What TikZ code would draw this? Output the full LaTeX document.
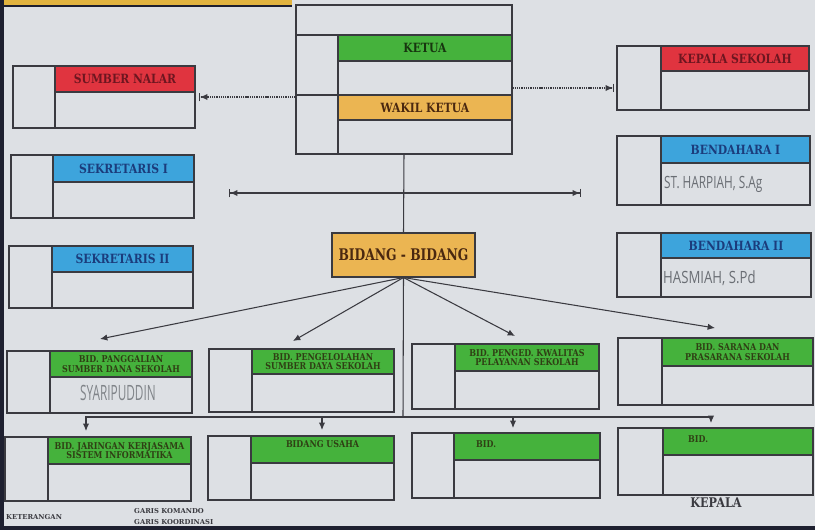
\documentclass[tikz,border=0pt]{standalone}
\usepackage{graphicx}
\usepackage{fontspec}
\setmainfont{DejaVu Serif}
\newfontfamily\handfont{Open Sans}
\usetikzlibrary{arrows.meta,fit,calc}

\definecolor{bg}{HTML}{DDE0E4}
\definecolor{linec}{HTML}{3A3A40}
\definecolor{hgreen}{HTML}{45B23C}
\definecolor{hred}{HTML}{E0343F}
\definecolor{hblue}{HTML}{3DA4DC}
\definecolor{horange}{HTML}{EBB552}
\definecolor{tgreen}{HTML}{17360F}
\definecolor{tred}{HTML}{6E1620}
\definecolor{tblue}{HTML}{1B3C7C}
\definecolor{tbrown}{HTML}{4A2810}
\definecolor{tolive}{HTML}{2F3F14}
\definecolor{pencil}{HTML}{6A6E74}
\definecolor{frameband}{HTML}{1E2030}
\definecolor{topband}{HTML}{E2B440}

% vertically stretched text
\newcommand{\tall}[1]{\scalebox{1}[1.18]{#1}}

\tikzset{
  frame/.style={draw=linec, line width=0.9pt, inner sep=0pt},
  hdr/.style={frame, fill=#1},
  cmd/.style={draw=linec, line width=0.9pt, -{Latex[length=2.2mm,width=1.9mm]}},
  coordarrow/.style={draw=linec, line width=0.9pt, -{Latex[length=2.2mm,width=1.9mm]Bar[width=2.6mm]}},
  dotarrow/.style={coordarrow, dash pattern=on 1.1pt off 0.8pt},
  bigtext/.style={inner sep=0pt, font=\bfseries\fontsize{9.2}{10}\selectfont},
  smalltext/.style={inner sep=0pt, align=center, font=\bfseries\fontsize{6.8}{7.9}\selectfont},
  legtext/.style={inner sep=0pt, anchor=west, text=linec, font=\bfseries\fontsize{5.8}{6.5}\selectfont},
  hand/.style={inner sep=0pt, text=pencil, font=\handfont\fontsize{9}{10}\selectfont},
}

% box with a left column and a coloured header strip
% #1 name, (#2,#3) top-left, #4 column x, #5 header bottom y, (#6,#7) bottom-right, #8 header fill
\newcommand{\unitbox}[8]{%
  \node[frame, fit={(#2,#3) (#6,#7)}] (#1) {};
  \node[hdr=#8, fit={(#4,#3) (#6,#5)}] (#1h) {};
  \draw[frame] (#4,#3) -- (#4,#7);
}

\begin{document}
\begin{tikzpicture}[x=0.3mm, y=-0.3mm]
\useasboundingbox (0,0) rectangle (815,530);
\fill[bg] (0,0) rectangle (815,530);

% board edges
\fill[topband] (0,0) rectangle (292,6);
\draw[frameband, line width=1.2pt] (0,6) -- (292,6);
\fill[frameband] (0,0) rectangle (4,530);
\fill[frameband] (0,526) rectangle (815,530);

% chairman block
\node[frame, fit={(296,5) (512,154)}] (ketua) {};
\node[hdr=hgreen, fit={(338,35) (512,61)}] (ketuah) {};
\node[hdr=horange, fit={(338,95) (512,120)}] (wakilh) {};
\draw[frame] (296,35) -- (338,35);
\draw[frame] (296,95) -- (338,95);
\draw[frame] (338,35) -- (338,154);
\node[bigtext, text=tgreen] (ketuat) at (ketuah.center) {\tall{KETUA}};
\node[bigtext, text=tbrown] (wakilt) at (wakilh.center) {\tall{WAKIL KETUA}};

% side boxes
\unitbox{sumber}{13}{66}{55}{92}{195}{128}{hred}
\node[bigtext, text=tred] (sumbert) at (sumberh.center) {\tall{SUMBER NALAR}};
\unitbox{sek1}{11}{155}{53}{182}{194}{218}{hblue}
\node[bigtext, text=tblue] (sek1t) at (sek1h.center) {\tall{SEKRETARIS I}};
\unitbox{sek2}{9}{246}{52}{272}{193}{308}{hblue}
\node[bigtext, text=tblue] (sek2t) at (sek2h.center) {\tall{SEKRETARIS II}};

\unitbox{kepsek}{617}{46}{661}{71}{809}{110}{hred}
\node[bigtext, text=tred] (kepsekt) at (kepsekh.center) {\tall{KEPALA SEKOLAH}};
\unitbox{bend1}{617}{136}{661}{163}{810}{205}{hblue}
\node[bigtext, text=tblue] (bend1t) at (bend1h.center) {\tall{BENDAHARA I}};
\node[hand, anchor=west] (bend1n) at (664,184) {\scalebox{1.12}[1.6]{ST. HARPIAH, S.Ag}};
\unitbox{bend2}{617}{233}{661}{258}{811}{297}{hblue}
\node[bigtext, text=tblue] (bend2t) at (bend2h.center) {\tall{BENDAHARA II}};
\node[hand, anchor=west] (bend2n) at (663,278) {\scalebox{1.25}[1.6]{HASMIAH, S.Pd}};

% sections node
\node[hdr=horange, fit={(332,233) (475,277)}] (bidang) {};
\node[inner sep=0pt, text=tbrown, font=\bfseries\fontsize{10.5}{12}\selectfont] (bidangt) at (bidang.center) {\scalebox{1}[1.3]{BIDANG - BIDANG}};

% first row of sections
\unitbox{ba}{7}{351}{50}{377}{192}{413}{hgreen}
\node[smalltext, text=tolive] (bat) at (bah.center) {\tall{BID. PANGGALIAN}\\\tall{SUMBER DANA SEKOLAH}};
\node[hand, text=pencil!85] (ban) at (118,393) {\scalebox{1.12}[2.0]{SYARIPUDDIN}};
\unitbox{bb}{209}{349}{252}{374}{394}{412}{hgreen}
\node[smalltext, text=tolive] (bbt) at (bbh.center) {\tall{BID. PENGELOLAHAN}\\\tall{SUMBER DAYA SEKOLAH}};
\unitbox{bc}{412}{344}{455}{371}{599}{409}{hgreen}
\node[smalltext, text=tolive] (bct) at (bch.center) {\tall{BID. PENGED. KWALITAS}\\\tall{PELAYANAN SEKOLAH}};
\unitbox{bd}{618}{338}{662}{366}{813}{405}{hgreen}
\node[smalltext, text=tolive] (bdt) at (bdh.center) {\tall{BID. SARANA DAN}\\\tall{PRASARANA SEKOLAH}};

% second row of sections
\unitbox{be}{5}{437}{48}{464}{191}{501}{hgreen}
\node[smalltext, text=tolive] (bet) at (beh.center) {\tall{BID. JARINGAN KERJASAMA}\\\tall{SISTEM INFORMATIKA}};
\unitbox{bf}{208}{436}{251}{463}{394}{500}{hgreen}
\node[smalltext, text=tolive] (bft) at ($(bfh.north)+(0,9)$) {\tall{BIDANG USAHA}};
\unitbox{bg}{412}{433}{454}{460}{600}{498}{hgreen}
\node[smalltext, text=tolive, anchor=west] (bgt) at (476,444) {\tall{BID.}};
\unitbox{bh}{618}{428}{663}{455}{813}{495}{hgreen}
\node[smalltext, text=tolive, anchor=west] (bht) at (688,439) {\tall{BID.}};

% command lines
\draw[frame] (ketua.south) -- (bidang.north);
\coordinate (ta) at (100,339);
\coordinate (tb) at (293,341);
\coordinate (tc) at (515,336);
\coordinate (td) at (715,328);
\foreach \t in {ta,tb,tc,td} \draw[cmd] (bidang.south) -- (\t);
\coordinate (bus) at (403,417);
\draw[frame] (bidang.south) -- (bus);
\coordinate (te) at (86,431);
\coordinate (tf) at (322,430);
\coordinate (tg) at (513,428);
\coordinate (th) at (711,423);
\foreach \t in {te,tf,tg,th} \draw[cmd] (bus) -| (\t);

% coordination lines
\coordinate (cj) at (403,193);
\coordinate (cl) at (229,196);
\coordinate (cr) at (581,190);
\draw[coordarrow] (cj) -- (cl |- cj);
\draw[coordarrow] (cj) -- (cr |- cj);
\coordinate (dl) at (199,97);
\coordinate (dr) at (614,88);
\draw[dotarrow] (ketua.west |- dl) -- (dl);
\draw[dotarrow] (ketua.east |- dr) -- (dr);

% footer
\node[inner sep=0pt, text=linec, font=\bfseries\fontsize{9.6}{11}\selectfont] (kepala) at (716,503) {\tall{KEPALA}};
\node[legtext] (ket) at (6,517) {KETERANGAN};
\node[legtext] (gk) at (134,511) {GARIS KOMANDO};
\node[legtext] (gko) at (134,522) {GARIS KOORDINASI};
\end{tikzpicture}
\end{document}
